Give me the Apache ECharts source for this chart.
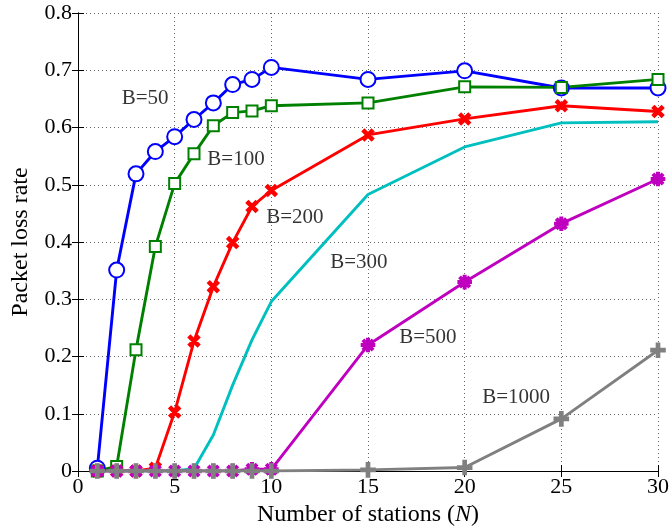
<!DOCTYPE html>
<html>
<head>
<meta charset="utf-8">
<script src="https://cdn.jsdelivr.net/npm/echarts@6/dist/echarts.min.js"></script>
<style>
  html, body { margin: 0; padding: 0; background: #fff; }
  #chart { width: 669px; height: 526px; }
</style>
</head>
<body>
<div id="chart"></div>
<script>
const stations = [1, 2, 3, 4, 5, 6, 7, 8, 9, 10, 15, 20, 25, 30]
const b50   = [0.005, 0.351, 0.519, 0.558, 0.584, 0.614, 0.643, 0.675, 0.684, 0.705, 0.684, 0.699, 0.669, 0.669]
const b100  = [0, 0.008, 0.212, 0.392, 0.502, 0.554, 0.603, 0.626, 0.629, 0.638, 0.643, 0.671, 0.670, 0.684]
const b200  = [0, 0, 0, 0.005, 0.103, 0.227, 0.322, 0.399, 0.462, 0.490, 0.587, 0.615, 0.638, 0.628]
const b300  = [0, 0, 0, 0, 0, 0.004, 0.063, 0.150, 0.229, 0.296, 0.483, 0.566, 0.608, 0.610]
const b500  = [0, 0, 0, 0, 0, 0, 0, 0, 0.003, 0.003, 0.220, 0.330, 0.432, 0.510]
const b1000 = [0, 0, 0, 0, 0, 0, 0, 0, 0, 0, 0.002, 0.006, 0.091, 0.211]
const labelText = ['B=50', 'B=100', 'B=200', 'B=300', 'B=500', 'B=1000']
const labelX = [3.47, 8.17, 11.22, 14.53, 18.1, 22.66]
const labelY = [0.651, 0.545, 0.442, 0.365, 0.234, 0.129]

const font = '"Liberation Serif", "DejaVu Serif", serif'
const plusPath = 'path://M-0.8,-5 L0.8,-5 L0.8,5 L-0.8,5 Z M-5,-0.8 L5,-0.8 L5,0.8 L-5,0.8 Z'
// asterisk: plus + two diagonals, same winding so overlaps stay filled
const starPath = 'path://M-0.6,-5 L0.6,-5 L0.6,5 L-0.6,5 Z M-5,-0.6 L5,-0.6 L5,0.6 L-5,0.6 Z ' +
  'M-3.1,-3.9 L3.9,3.1 L3.1,3.9 L-3.9,-3.1 Z M3.9,-3.1 L-3.1,3.9 L-3.9,3.1 L3.1,-3.9 Z'

const pairs = arr => stations.map((s, i) => [s, arr[i]])

const chart = echarts.init(document.getElementById('chart'), null, { renderer: 'canvas' })

function lineSeries(data, color, symbol, size, opts) {
  return Object.assign({
    type: 'line',
    data: pairs(data),
    symbol: symbol,
    symbolSize: size,
    showSymbol: symbol !== 'none',
    lineStyle: { color: color, width: 2.9 },
    itemStyle: { color: color, borderColor: color, borderWidth: 2.6 },
    animation: false,
    z: 3
  }, opts || {})
}

const axisCommon = {
  type: 'value',
  axisLine: { show: true, lineStyle: { color: '#000', width: 1 } },
  axisTick: { show: true, inside: true, length: 6, lineStyle: { color: '#000' } },
  axisLabel: { color: '#000', fontFamily: font, fontSize: 22 },
  splitLine: { show: false }
}

const option = {
  backgroundColor: '#fff',
  animation: false,
  grid: { left: 78, right: 11, top: 13, bottom: 55, outerBoundsMode: 'none', containLabel: false },
  xAxis: [
    Object.assign({}, axisCommon, {
      min: 0, max: 30, interval: 5,
      position: 'bottom',
      axisLabel: { color: '#000', fontFamily: font, fontSize: 22, margin: 5 },
      splitLine: { show: true, lineStyle: { color: '#666', type: [1, 3], width: 1 } },
      name: 'Number of stations ({i|N})',
      nameLocation: 'middle',
      nameGap: 27,
      nameTextStyle: {
        color: '#000', fontFamily: font, fontSize: 24,
        rich: { i: { fontStyle: 'italic', fontFamily: font, fontSize: 24, color: '#000' } }
      }
    }),
    Object.assign({}, axisCommon, {
      min: 0, max: 30, interval: 5,
      position: 'top',
      axisLabel: { show: false }
    })
  ],
  yAxis: [
    Object.assign({}, axisCommon, {
      min: 0, max: 0.8, interval: 0.1,
      position: 'left',
      axisLabel: {
        color: '#000', fontFamily: font, fontSize: 22, margin: 6,
        formatter: v => v === 0 ? '0' : v.toFixed(1)
      },
      splitLine: { show: true, lineStyle: { color: '#666', type: [1, 3], width: 1 } },
      name: 'Packet loss rate',
      nameLocation: 'middle',
      nameGap: 45,
      nameTextStyle: { color: '#000', fontFamily: font, fontSize: 24 }
    }),
    Object.assign({}, axisCommon, {
      min: 0, max: 0.8, interval: 0.1,
      position: 'right',
      axisLabel: { show: false }
    })
  ],
  series: [
    lineSeries(b50, '#0000ff', 'emptyCircle', 15),
    lineSeries(b100, '#008000', 'emptyRect', 11),
    lineSeries(b200, '#ff0000', plusPath, 12, { symbolRotate: 45 }),
    lineSeries(b300, '#00bfbf', 'none', 0),
    lineSeries(b500, '#bf00bf', starPath, 12),
    lineSeries(b1000, '#808080', plusPath, 13),
    {
      type: 'scatter',
      data: labelText.map((t, i) => [labelX[i], labelY[i], t]),
      symbolSize: 0,
      silent: true,
      animation: false,
      z: 5,
      label: {
        show: true,
        position: 'inside',
        formatter: p => p.data[2],
        color: '#000',
        fontFamily: font,
        fontSize: 21
      }
    }
  ]
}

chart.setOption(option)
</script>
</body>
</html>
